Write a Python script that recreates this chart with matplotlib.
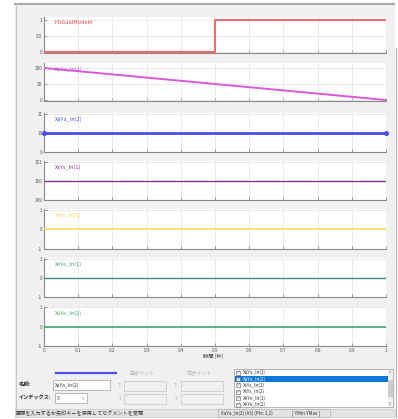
import matplotlib
matplotlib.use("Agg")
import matplotlib.pyplot as plt
from matplotlib.patches import Rectangle

plt.rcParams['font.family'] = ['Noto Sans CJK JP', 'DejaVu Sans']

# signal data (time in seconds)
time_span = [0, 1]
step_time = [0, 0.5, 0.5, 1]
time_ticks = [0, 0.1, 0.2, 0.3, 0.4, 0.5, 0.6, 0.7, 0.8, 0.9, 1]
time_tick_labels = ['0', '0.1', '0.2', '0.3', '0.4', '0.5', '0.6', '0.7', '0.8', '0.9', '1']

signal_names = ['HoGuidModeIn', 'XaYa_In(1)', 'XaYa_In(2)', 'XsYs_In(1)',
                'XsYs_In(2)', 'XeYe_In(1)', 'XeYe_In(2)']
hoguid_mode = [0, 0, 1, 1]
xaya_1 = [100, 0]
xaya_2 = [10, 10]
xsys_1 = [150, 150]
xsys_2 = [0, 0]
xeye_1 = [0, 0]
xeye_2 = [0, 0]

ytick_sets = [[0, 0.5, 1], [0, 50, 100], [9, 10, 11], [149, 150, 151],
              [-1, 0, 1], [-1, 0, 1], [-1, 0, 1]]
ytick_label_sets = [['0', '0.5', '1'], ['0', '50', '100'], ['9', '10', '11'],
                    ['149', '150', '151'], ['-1', '0', '1'], ['-1', '0', '1'], ['-1', '0', '1']]

selected_name = 'XaYa_In(2)'
selected_index = '3'
status_text = '座標を入力するか矢印キーを使用してセグメントを変更'
status_info = 'XaYa_In(2) (#3) (Pts: 1,2)'
status_range = '[ YMin YMax ]'

W, H = 398, 419


def box(x0, y0, x1, y1):
    return [x0 / W, 1 - y1 / H, (x1 - x0) / W, (y1 - y0) / H]


fig = plt.figure(figsize=(W / 100, H / 100), dpi=100, facecolor='white')

# window background and widgets, in pixel coordinates
bg = fig.add_axes([0, 0, 1, 1], zorder=-1)
bg.set_xlim(0, W)
bg.set_ylim(H, 0)
bg.axis('off')
bg.add_patch(Rectangle((15, 4), 380, 413, facecolor='#f0f0f0', edgecolor='none'))
bg.plot([15, 394], [4.5, 4.5], color='#a8a8a8', lw=1.5)
bg.plot([15.5, 15.5], [4, 417], color='#c8c8c8', lw=0.8)
bg.plot([395.5, 395.5], [48, 417], color='#b4b4b4', lw=0.8)

# panels: (top, bottom) in pixels, y limits, x/y data, colour, line width
panels = [
    ((17, 53), (-0.03, 1.077), step_time, hoguid_mode, '#f06868', '#e84040', 1.4),
    ((63, 101), (-3.1, 115.6), time_span, xaya_1, '#d85ad8', '#d050d0', 1.4),
    ((113, 152), (9, 11.03), time_span, xaya_2, '#4c4cf5', '#5050f0', 2.0),
    ((161, 200), (149, 151.03), time_span, xsys_1, '#7a3a78', '#7a3a78', 1.0),
    ((209, 249), (-1, 1.03), time_span, xsys_2, '#f7e06a', '#f2dc60', 1.3),
    ((258, 297), (-1, 1.03), time_span, xeye_1, '#3f8c88', '#4a9892', 1.0),
    ((306.5, 346), (-1, 1.03), time_span, xeye_2, '#3daa6e', '#3daa6e', 1.2),
]

for i, ((top, bottom), ylim, xs, ys, line_color, text_color, lw) in enumerate(panels):
    ax = fig.add_axes(box(44, top, 386, bottom))
    ax.set_facecolor('white')
    ax.plot(xs, ys, color=line_color, lw=lw, solid_capstyle='butt', zorder=3)
    if signal_names[i] == selected_name:
        ax.plot(xs, ys, 'o', color=line_color, ms=2.6, zorder=4, clip_on=False)
    ax.set_xlim(0, 1)
    ax.set_ylim(*ylim)
    ax.set_xticks(time_ticks)
    ax.set_yticks(ytick_sets[i])
    ax.set_yticklabels(ytick_label_sets[i])
    if i == len(panels) - 1:
        ax.set_xticklabels(time_tick_labels)
    else:
        ax.set_xticklabels([])
    for side in ['top', 'right']:
        ax.spines[side].set_visible(False)
    for side in ['left', 'bottom']:
        ax.spines[side].set_color('#8a8a8a')
        ax.spines[side].set_linewidth(0.8)
    ax.tick_params(direction='in', length=2.2, width=0.6, color='#8a8a8a',
                   labelsize=3.4, labelcolor='#555555', pad=1.2)
    ax.grid(True, color='#e6e6e6', lw=0.6)
    ax.set_axisbelow(True)
    ax.text(0.032, 0.84, signal_names[i], transform=ax.transAxes, color=text_color,
            fontsize=4.0, va='center', ha='left', zorder=5)

bg.text(203, 356, '時間 (秒)', fontsize=3.8, color='#333333', ha='left', va='center')

# selected signal line sample
bg.plot([56, 116], [373, 373], color='#5050f0', lw=1.6)

# name / index fields
bg.text(19, 384.5, '名前:', fontsize=4.0, fontweight='bold', color='#222222', va='center')
bg.add_patch(Rectangle((53, 380), 57, 9.5, facecolor='white', edgecolor='#a0a0a0', lw=0.5))
bg.text(55, 384.8, selected_name, fontsize=3.5, color='#333333', va='center')
bg.text(19, 398, 'インデックス:', fontsize=3.7, fontweight='bold', color='#222222', va='center')
bg.add_patch(Rectangle((55, 393), 32, 10, facecolor='white', edgecolor='#a0a0a0', lw=0.5))
bg.text(57, 398, selected_index, fontsize=3.6, color='#333333', va='center')
bg.text(83, 398.5, 'v', fontsize=3.4, color='#999999', ha='center', va='center')

# point fields (disabled)
for x_lab, x_box in [(118, 124), (174, 181)]:
    bg.text(x_box + 6, 374, '左ポイント' if x_box == 124 else '右ポイント',
            fontsize=3.7, color='#b0b0b0', va='center')
    bg.text(x_lab, 385.5, 'T:', fontsize=3.4, color='#b0b0b0', va='center')
    bg.text(x_lab, 398.5, 'Y:', fontsize=3.4, color='#b0b0b0', va='center')
    bg.add_patch(Rectangle((x_box, 380.5), 41.5, 10, facecolor='#f0f0f0', edgecolor='#c4c4c4', lw=0.5))
    bg.add_patch(Rectangle((x_box, 393.5), 41.5, 10, facecolor='#f0f0f0', edgecolor='#c4c4c4', lw=0.5))

# signal list box
bg.add_patch(Rectangle((234, 369), 159, 38, facecolor='white', edgecolor='#9a9a9a', lw=0.5))
list_items = signal_names[1:]
row_h = 6.4
for k, name in enumerate(list_items):
    yc = 372.5 + k * row_h
    if yc > 406:
        break
    if name == selected_name:
        bg.add_patch(Rectangle((234.5, yc - row_h / 2), 153, row_h,
                               facecolor='#0a78d7', edgecolor='none'))
        tc = 'white'
    else:
        tc = '#333333'
    bg.add_patch(Rectangle((236, yc - 2), 4, 4, facecolor='white', edgecolor='#555555', lw=0.4))
    bg.text(236.6, yc + 0.2, '✓', fontsize=3.0, color='#333333', va='center', family='DejaVu Sans')
    bg.text(242.5, yc, name, fontsize=3.4, color=tc, va='center', clip_on=True)
bg.add_patch(Rectangle((387.5, 369.5), 5.5, 37, facecolor='#f0f0f0', edgecolor='none'))
bg.add_patch(Rectangle((388, 380), 4.5, 17, facecolor='#cdcdcd', edgecolor='none'))
bg.text(390, 373, '^', fontsize=3.2, color='#777777', ha='center', va='center')
bg.text(390, 403, 'v', fontsize=3.2, color='#777777', ha='center', va='center')

# status bar
bg.add_patch(Rectangle((15, 409), 380, 8, facecolor='#e3e3e3', edgecolor='#c8c8c8', lw=0.5))
bg.text(16, 413, status_text, fontsize=3.7, color='#333333', va='center')
bg.add_patch(Rectangle((218, 409), 112, 8, facecolor='#e3e3e3', edgecolor='#b0b0b0', lw=0.5))
bg.text(221, 413, status_info, fontsize=3.4, color='#333333', va='center')
bg.text(292, 413, status_range, fontsize=3.4, color='#333333', va='center')

fig.savefig('out.png', dpi=100)
